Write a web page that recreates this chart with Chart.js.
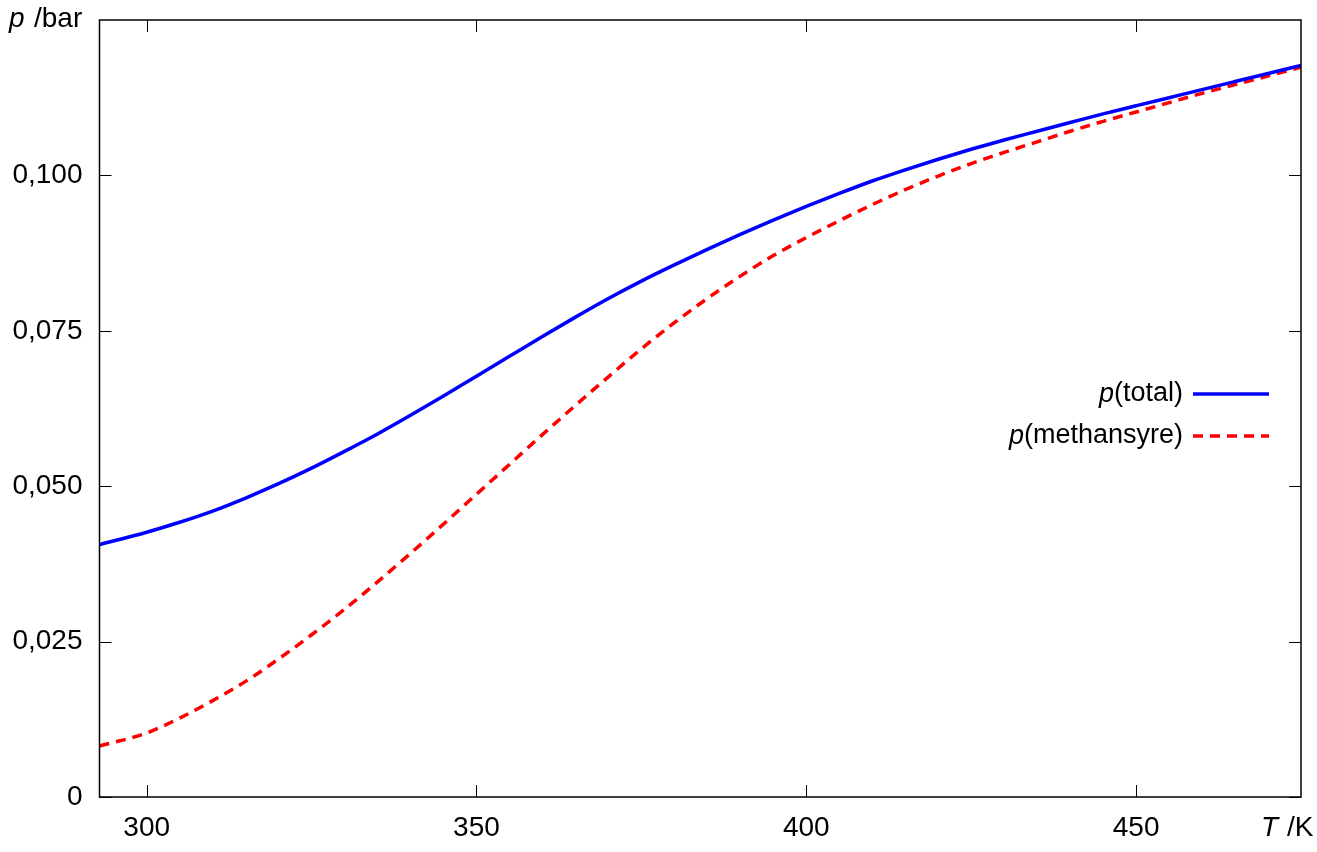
<!DOCTYPE html>
<html>
<head>
<meta charset="utf-8">
<script src="https://cdn.jsdelivr.net/npm/chart.js@4/dist/chart.umd.min.js"></script>
<style>
  html, body { margin: 0; padding: 0; background: #fff; }
  #wrap { width: 1317px; height: 852px; }
</style>
</head>
<body>
<div id="wrap"><canvas id="chart" width="1317" height="852"></canvas></div>
<script>
// Temperatur (K) og damptrykk (bar), lest av figuren
const temps = [292.85, 300, 305, 310, 315, 320, 325, 330, 335, 340, 345, 350, 355, 360, 365, 370,
  375, 380, 385, 390, 395, 400, 405, 410, 415, 420, 425, 430, 435, 440, 445, 450, 455, 460, 465, 470, 475];
const pTotal = [0.0406, 0.0426, 0.0442, 0.0460, 0.0481, 0.0504, 0.0529, 0.0556, 0.0584, 0.0614, 0.0645,
  0.0677, 0.0709, 0.0741, 0.0772, 0.0802, 0.0830, 0.0856, 0.0881, 0.0905, 0.0928, 0.0950, 0.0971,
  0.0991, 0.1009, 0.1026, 0.1042, 0.1057, 0.1071, 0.1085, 0.1099, 0.1112, 0.1125, 0.1138, 0.1151, 0.1164, 0.1177];
const pMethansyre = [0.0082, 0.0103, 0.0127, 0.0155, 0.0186, 0.0222, 0.0261, 0.0302, 0.0346, 0.0392, 0.0439,
  0.0487, 0.0535, 0.0583, 0.0630, 0.0676, 0.0721, 0.0763, 0.0802, 0.0838, 0.0871, 0.0900, 0.0927,
  0.0953, 0.0977, 0.0999, 0.1019, 0.1037, 0.1054, 0.1071, 0.1087, 0.1102, 0.1117, 0.1132, 0.1146, 0.1160, 0.1174];
const seriesNames = ['total', 'methansyre'];
const xTicks = [300, 350, 400, 450];
const yTicks = [0, 0.025, 0.05, 0.075, 0.1];

const FONT = '"Liberation Sans", Arial, sans-serif';
const toPts = (ys) => temps.map((t, i) => ({ x: t, y: ys[i] }));

// rammen, innoverrettede tikk, aksetitler og forklaring (p i kursiv)
const framePlugin = {
    id: 'frame',
    afterDraw(chart) {
        const ctx = chart.ctx;
        const a = chart.chartArea;
        const xs = chart.scales.x, ys = chart.scales.y;
        const tl = 12;
        ctx.save();
        ctx.strokeStyle = '#000';
        ctx.lineWidth = 1.5;
        ctx.strokeRect(a.left, a.top, a.right - a.left, a.bottom - a.top);
        ctx.lineWidth = 1;
        ctx.beginPath();
        xTicks.forEach(v => {
            const px = Math.round(xs.getPixelForValue(v)) + 0.5;
            ctx.moveTo(px, a.bottom); ctx.lineTo(px, a.bottom - tl);
            ctx.moveTo(px, a.top); ctx.lineTo(px, a.top + tl);
        });
        yTicks.forEach(v => {
            const py = Math.round(ys.getPixelForValue(v)) + 0.5;
            ctx.moveTo(a.left, py); ctx.lineTo(a.left + tl, py);
            ctx.moveTo(a.right, py); ctx.lineTo(a.right - tl, py);
        });
        ctx.stroke();

        // aksetitler
        ctx.fillStyle = '#000';
        ctx.textBaseline = 'middle';
        ctx.textAlign = 'left';
        ctx.font = 'italic 28px ' + FONT;
        ctx.fillText('p', 9, 19);
        ctx.font = '28px ' + FONT;
        ctx.fillText('/bar', 34, 19);
        ctx.font = 'italic 28px ' + FONT;
        ctx.fillText('T', 1261, 828);
        ctx.font = '28px ' + FONT;
        ctx.fillText('/K', 1287, 828);

        // forklaring
        const rows = [394, 436];
        chart.data.datasets.forEach((ds, i) => {
            const y = rows[i];
            ctx.textAlign = 'right';
            ctx.font = '27px ' + FONT;
            const rest = '(' + seriesNames[i] + ')';
            const wRest = ctx.measureText(rest).width;
            ctx.fillText(rest, 1183, y);
            ctx.font = 'italic 27px ' + FONT;
            ctx.fillText('p', 1183 - wRest, y);
            ctx.strokeStyle = ds.borderColor;
            ctx.lineWidth = ds.borderWidth;
            ctx.setLineDash(ds.borderDash || []);
            ctx.beginPath();
            ctx.moveTo(1193, y); ctx.lineTo(1269, y);
            ctx.stroke();
            ctx.setLineDash([]);
        });
        ctx.restore();
    }
};

new Chart(document.getElementById('chart'), {
    type: 'line',
    data: {
        datasets: [
            { label: 'p(total)', data: toPts(pTotal), borderColor: '#0000ff', borderWidth: 3.5,
              pointRadius: 0, cubicInterpolationMode: 'monotone', fill: false },
            { label: 'p(methansyre)', data: toPts(pMethansyre), borderColor: '#ff0000', borderWidth: 3.5,
              borderDash: [10, 7], pointRadius: 0, cubicInterpolationMode: 'monotone', fill: false }
        ]
    },
    options: {
        responsive: false,
        animation: false,
        devicePixelRatio: 1,
        layout: { padding: { left: 0, right: 16, top: 20, bottom: 0 } },
        plugins: { legend: { display: false }, tooltip: { enabled: false } },
        scales: {
            x: {
                type: 'linear', min: 292.85, max: 475,
                afterFit: (s) => { s.height = 55; s.paddingLeft = 0; s.paddingRight = 0; },
                afterBuildTicks: (s) => { s.ticks = xTicks.map(v => ({ value: v })); },
                grid: { display: false, drawTicks: false },
                border: { display: false },
                ticks: { color: '#000', padding: 14, font: { family: FONT, size: 28 }, maxRotation: 0,
                         callback: (v) => String(v) }
            },
            y: {
                type: 'linear', min: 0, max: 0.125,
                afterFit: (s) => { s.width = 99.5; s.paddingTop = 0; s.paddingBottom = 0; },
                afterBuildTicks: (s) => { s.ticks = yTicks.map(v => ({ value: v })); },
                grid: { display: false, drawTicks: false },
                border: { display: false },
                ticks: { color: '#000', padding: 17, font: { family: FONT, size: 28 },
                         callback: (v) => v === 0 ? '0' : v.toFixed(3).replace('.', ',') }
            }
        }
    },
    plugins: [framePlugin]
});
</script>
</body>
</html>
